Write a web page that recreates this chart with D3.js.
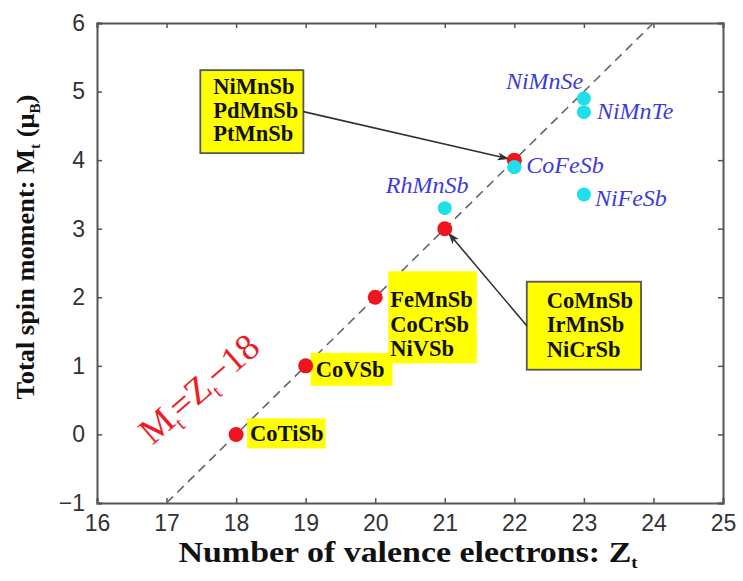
<!DOCTYPE html>
<html>
<head>
<meta charset="utf-8">
<script src="https://cdn.jsdelivr.net/npm/d3@7"></script>
<style>
  body { margin: 0; background: #fff; }
  svg { display: block; }
</style>
</head>
<body>
<svg id="chart"></svg>
<script>
// Half-metallic Heusler compounds: Slater-Pauling rule
const xTicks = [16, 17, 18, 19, 20, 21, 22, 23, 24, 25];
const yTicks = [-1, 0, 1, 2, 3, 4, 5, 6];

// red points sit on the M = Z - 18 line
const redZ = [18, 19, 20, 21, 22];
const redM = [0, 1, 2, 3, 4];

// cyan points (blue labels)
const cyanZ = [21, 22, 23, 23, 23];
const cyanM = [3.3, 3.9, 4.9, 4.7, 3.5];
const cyanNames = ["RhMnSb", "CoFeSb", "NiMnSe", "NiMnTe", "NiFeSb"];

// compounds attached to each red point
const redGroups = [
  ["CoTiSb"],
  ["CoVSb"],
  ["FeMnSb", "CoCrSb", "NiVSb"],
  ["CoMnSb", "IrMnSb", "NiCrSb"],
  ["NiMnSb", "PdMnSb", "PtMnSb"]
];

const lineStart = [17, -1];
const lineEnd = [24, 6];

const width = 743, height = 581;
const margin = { top: 23, right: 20, bottom: 78, left: 97 };

const svg = d3.select("#chart").attr("width", width).attr("height", height);

const x = d3.scaleLinear().domain([16, 25]).range([margin.left, width - margin.right]);
const y = d3.scaleLinear().domain([-1, 6]).range([height - margin.bottom, margin.top]);

const axisColor = "#555";
const fmt = d3.format("d");

// Axes with inward ticks on all sides
svg.append("g")
  .attr("transform", `translate(0,${y(-1)})`)
  .call(d3.axisBottom(x).tickValues(xTicks).tickSize(-5).tickPadding(12).tickFormat(fmt))
  .call(g => g.selectAll("text").attr("font-size", 23));
svg.append("g")
  .attr("transform", `translate(0,${y(6)})`)
  .call(d3.axisTop(x).tickValues(xTicks).tickSize(-5).tickFormat(""));
svg.append("g")
  .attr("transform", `translate(${x(16)},0)`)
  .call(d3.axisLeft(y).tickValues(yTicks).tickSize(-5).tickPadding(12).tickFormat(fmt))
  .call(g => g.selectAll("text").attr("font-size", 23));
svg.append("g")
  .attr("transform", `translate(${x(25)},0)`)
  .call(d3.axisRight(y).tickValues(yTicks).tickSize(-5).tickFormat(""));

svg.selectAll(".domain").attr("stroke", axisColor).attr("stroke-width", 2);
svg.selectAll(".tick line").attr("stroke", axisColor).attr("stroke-width", 1.5);
svg.selectAll(".tick text")
  .attr("font-family", "'Liberation Sans', Arial, sans-serif")
  .attr("fill", "#333");

// Dashed Slater-Pauling line
svg.append("line")
  .attr("x1", x(lineStart[0])).attr("y1", y(lineStart[1]))
  .attr("x2", x(lineEnd[0])).attr("y2", y(lineEnd[1]))
  .attr("stroke", "#666")
  .attr("stroke-width", 1.6)
  .attr("stroke-dasharray", "9,6");

// Arrow marker
svg.append("defs").append("marker")
  .attr("id", "arrow")
  .attr("viewBox", "0 -5 12 10")
  .attr("refX", 11).attr("refY", 0)
  .attr("markerWidth", 12).attr("markerHeight", 10)
  .attr("markerUnits", "userSpaceOnUse")
  .attr("orient", "auto")
  .append("path")
  .attr("d", "M0,-4L12,0L0,4L3,0Z")
  .attr("fill", "#333");

// Label boxes: offsets in pixels from the red point, box padding, border, arrow
const boxStyle = [
  { dx: 14, dy: 7, lh: 24, pad: [3, 2, 3, 2], border: false },
  { dx: 10, dy: 11, lh: 24, pad: [5, 8, 4, 4], border: false },
  { dx: 15, dy: 10, lh: 24.5, pad: [2, 4, 16, 2], border: false },
  { dx: 102, dy: 79, lh: 24.5, pad: [20, 8, 6, 8], border: true, arrow: true },
  { dx: -301, dy: -66, lh: 23.5, pad: [13, 5, 4, 7], border: true, arrow: true }
];

const boxLayer = svg.append("g");
redGroups.forEach((names, i) => {
  const st = boxStyle[i];
  const px = x(redZ[i]) + st.dx, py = y(redM[i]) + st.dy;
  const g = boxLayer.append("g");
  const rect = g.append("rect");
  const t = g.append("text")
    .attr("font-family", "'Liberation Serif', 'Times New Roman', serif")
    .attr("font-weight", "bold")
    .attr("font-size", 22.5)
    .attr("fill", "#111");
  t.selectAll("tspan").data(names).enter().append("tspan")
    .attr("x", px)
    .attr("y", (d, k) => py + k * st.lh)
    .text(d => d);
  const bb = t.node().getBBox();
  const [pl, pr, pt, pb] = st.pad;
  rect.attr("x", bb.x - pl).attr("y", bb.y - pt)
    .attr("width", bb.width + pl + pr).attr("height", bb.height + pt + pb)
    .attr("fill", "#ffff00")
    .attr("stroke", st.border ? "#555" : "none")
    .attr("stroke-width", 1.8);
  if (st.arrow) {
    const fromLeft = st.dx > 0;
    const sx = fromLeft ? bb.x - pl : bb.x + bb.width + pr;
    const sy = bb.y - pt + (bb.height + pt + pb) / 2;
    const tx = x(redZ[i]), ty = y(redM[i]);
    const ang = Math.atan2(ty - sy, tx - sx);
    svg.append("line")
      .attr("x1", sx).attr("y1", sy)
      .attr("x2", tx - Math.cos(ang) * 6).attr("y2", ty - Math.sin(ang) * 6)
      .attr("stroke", "#333").attr("stroke-width", 1.6)
      .attr("marker-end", "url(#arrow)");
  }
});

// Cyan points
svg.append("g").selectAll("circle")
  .data(cyanZ.map((z, i) => ({ z, m: cyanM[i] })))
  .enter().append("circle")
  .attr("cx", d => x(d.z)).attr("cy", d => y(d.m))
  .attr("r", 7)
  .attr("fill", "#1fe0ea");

// Red points (drawn on top)
svg.append("g").selectAll("circle")
  .data(redZ.map((z, i) => ({ z, m: redM[i] })))
  .enter().append("circle")
  .attr("cx", d => x(d.z)).attr("cy", d => y(d.m))
  .attr("r", 7.5)
  .attr("fill", "#f0141e");

// draw the CoFeSb cyan over the red one like the original
svg.append("circle")
  .attr("cx", x(cyanZ[1])).attr("cy", y(cyanM[1]))
  .attr("r", 7).attr("fill", "#1fe0ea");

// Blue italic labels
const cyanOffsets = [[-59, -15], [12, 6], [-78, -9], [13, 7], [11, 12]];
svg.append("g").selectAll("text")
  .data(cyanNames)
  .enter().append("text")
  .attr("x", (d, i) => x(cyanZ[i]) + cyanOffsets[i][0])
  .attr("y", (d, i) => y(cyanM[i]) + cyanOffsets[i][1])
  .attr("font-family", "'Liberation Serif', 'Times New Roman', serif")
  .attr("font-style", "italic")
  .attr("font-size", 24)
  .attr("fill", "#3c3cdc")
  .text(d => d);

// Red rotated equation
const eq = svg.append("text")
  .attr("transform", "translate(207,398) rotate(-41)")
  .attr("text-anchor", "middle")
  .attr("font-family", "'Liberation Serif', 'Times New Roman', serif")
  .attr("font-size", 37)
  .attr("fill", "#ee1c24");
eq.append("tspan").text("M");
eq.append("tspan").attr("dy", 8).attr("font-size", 20).text("t");
eq.append("tspan").attr("dy", -8).text("=Z");
eq.append("tspan").attr("dy", 8).attr("font-size", 20).text("t");
eq.append("tspan").attr("dy", -8).text("\u221218");

// Axis titles
const xt = svg.append("text")
  .attr("text-anchor", "middle")
  .attr("font-family", "'Liberation Serif', 'Times New Roman', serif")
  .attr("font-weight", "bold")
  .attr("font-size", 29)
  .attr("fill", "#111");
xt.append("tspan").text("Number of valence electrons: Z");
xt.append("tspan").attr("dy", 6).attr("font-size", 16).text("t");
const xw = xt.node().getBBox().width;
xt.attr("transform", `translate(408,562) scale(${460 / xw},1)`);

const yt = svg.append("text")
  .attr("text-anchor", "middle")
  .attr("font-family", "'Liberation Serif', 'Times New Roman', serif")
  .attr("font-weight", "bold")
  .attr("font-size", 26)
  .attr("fill", "#111");
yt.append("tspan").text("Total spin moment: M");
yt.append("tspan").attr("dy", 6).attr("font-size", 15).text("t");
yt.append("tspan").attr("dy", -6).text(" (\u03bc");
yt.append("tspan").attr("dy", 6).attr("font-size", 15).text("B");
yt.append("tspan").attr("dy", -6).text(")");
const yw = yt.node().getBBox().width;
yt.attr("transform", `translate(34,247) rotate(-90) scale(${305 / yw},1)`);
</script>
</body>
</html>
